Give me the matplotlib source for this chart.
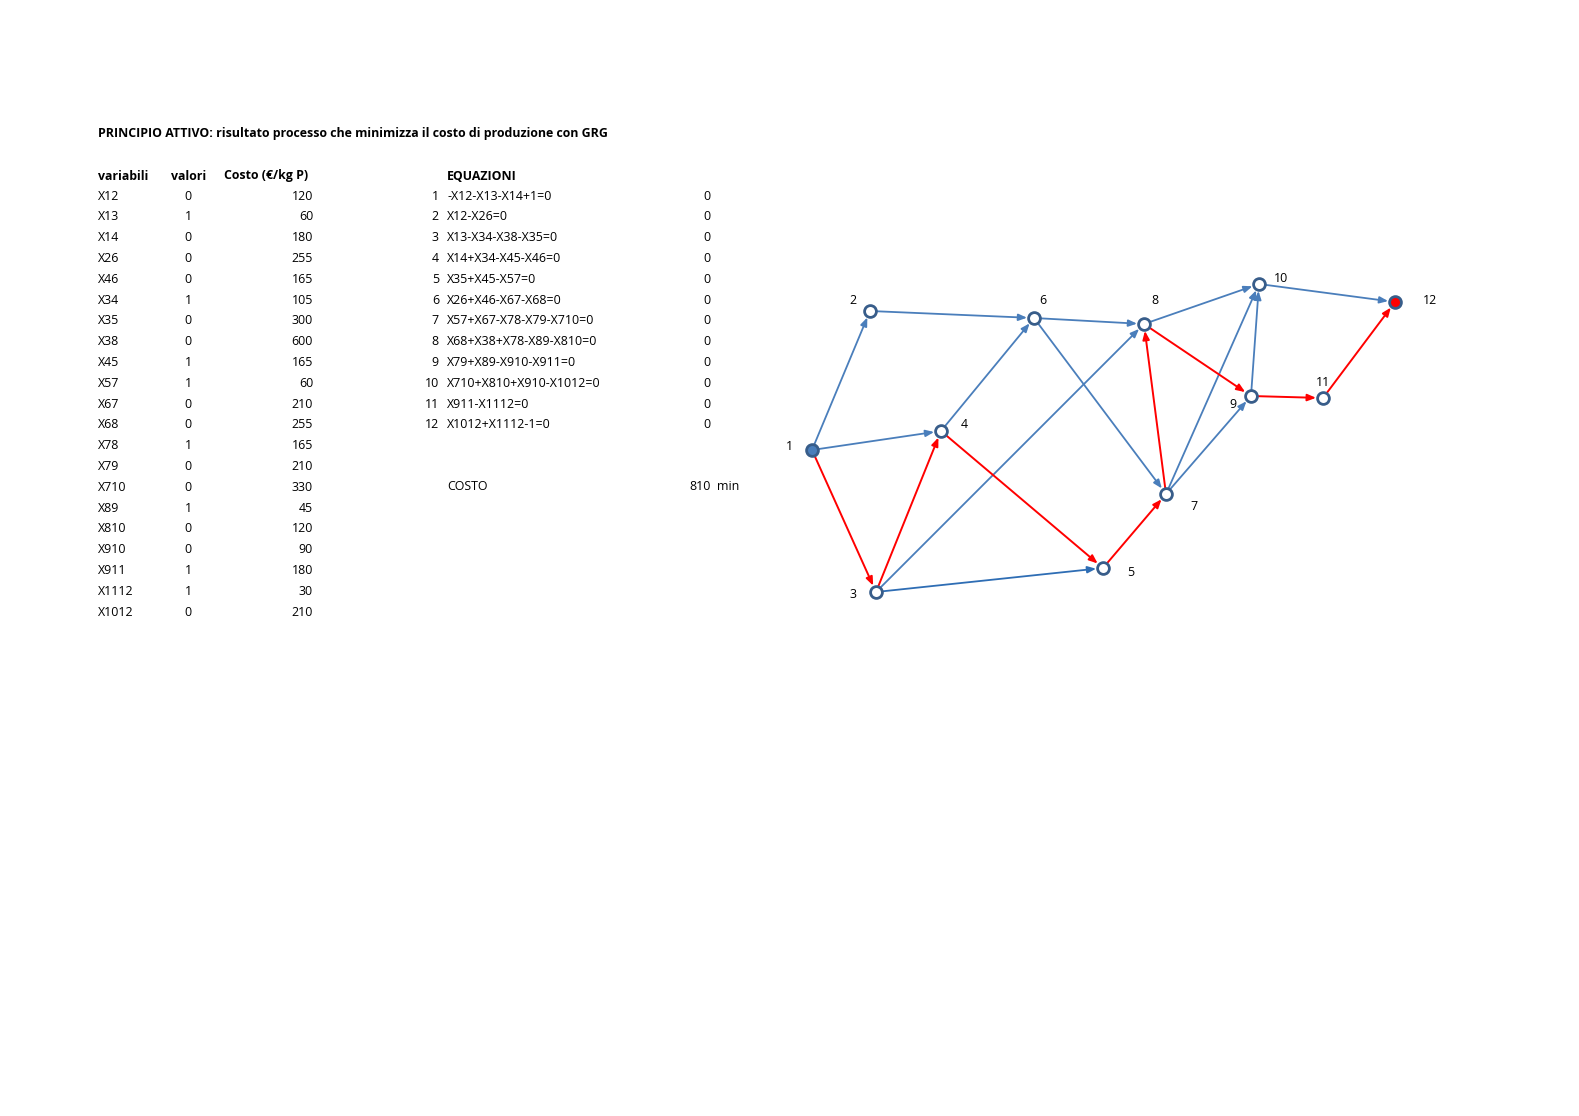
import matplotlib
matplotlib.use("Agg")
import matplotlib.pyplot as plt

variabili = ["X12","X13","X14","X26","X46","X34","X35","X38","X45","X57","X67","X68","X78","X79","X710","X89","X810","X910","X911","X1112","X1012"]
valori = [0,1,0,0,0,1,0,0,1,1,0,0,1,0,0,1,0,0,1,1,0]
costo = [120,60,180,255,165,105,300,600,165,60,210,255,165,210,330,45,120,90,180,30,210]
equazioni = ["-X12-X13-X14+1=0","X12-X26=0","X13-X34-X38-X35=0","X14+X34-X45-X46=0",
             "X35+X45-X57=0","X26+X46-X67-X68=0","X57+X67-X78-X79-X710=0",
             "X68+X38+X78-X89-X810=0","X79+X89-X910-X911=0","X710+X810+X910-X1012=0",
             "X911-X1112=0","X1012+X1112-1=0"]
eq_vals = [0]*12
costo_tot = 810

nodes = {1:(812,450),2:(870,311),3:(876,592),4:(941,431),5:(1103,568),6:(1034,318),
         7:(1166,494),8:(1144,324),9:(1251,396),10:(1259,284),11:(1323,398),12:(1395,302)}
label_pos = {1:(786,446),2:(849,300),3:(849,595),4:(961,425),5:(1127,573),6:(1039,300),
             7:(1190,507),8:(1151,300),9:(1229,404),10:(1274,279),11:(1316,383),12:(1423,300)}
blue_edges = [(1,2),(1,4),(2,6),(4,6),(3,8),(3,5),(6,8),(6,7),(7,9),(7,10),(9,10),(8,10),(10,12)]
red_edges = [(1,3),(3,4),(4,5),(5,7),(7,8),(8,9),(9,11),(11,12)]

fig = plt.figure(figsize=(15.79,11.16), dpi=100)
ax = fig.add_axes([0,0,1,1])
ax.set_xlim(0,1579); ax.set_ylim(1116,0); ax.axis("off")
F = dict(family=["Open Sans","DejaVu Sans"], fontsize=8.9, va="center")

ax.text(98,133,"PRINCIPIO ATTIVO: risultato processo che minimizza il costo di produzione con GRG", fontweight="bold", **F)
ax.text(98,176,"variabili", fontweight="bold", **F)
ax.text(171,176,"valori", fontweight="bold", **F)
ax.text(224,176,"Costo (€/kg P)", fontweight="bold", **F)
y0, dy = 196, 20.8
for i,(v,val,c) in enumerate(zip(variabili,valori,costo)):
    y = y0+i*dy
    ax.text(98,y,v,**F)
    ax.text(188,y,str(val),ha="center",**F)
    ax.text(313,y,str(c),ha="right",**F)
ax.text(447,176,"EQUAZIONI", fontweight="bold", **F)
for i,(e,ev) in enumerate(zip(equazioni,eq_vals)):
    y = y0+i*dy
    ax.text(439,y,str(i+1),ha="right",**F)
    ax.text(447,y,e,**F)
    ax.text(707,y,str(ev),ha="center",**F)
ax.text(447,487,"COSTO",**F)
ax.text(711,487,str(costo_tot),ha="right",**F)
ax.text(717,487,"min",**F)

def edge(a,b,col,lw):
    ax.annotate("", xy=nodes[b], xytext=nodes[a],
                arrowprops=dict(arrowstyle="-|>,head_length=0.5,head_width=0.2", color=col, lw=lw,
                                shrinkA=0, shrinkB=5))
for a,b in blue_edges:
    edge(a,b,"#4a7ebb" if (a,b)!=(3,5) else "#2e6db4",1.3)
for a,b in red_edges:
    edge(a,b,"#ff0000",1.4)
for n,(x,y) in nodes.items():
    fc = "white"
    if n==1: fc="#4a7ebb"
    if n==12: fc="#ff0000"
    ax.plot(x,y,"o",ms=8.5,mfc=fc,mec="#385d8a",mew=2,zorder=5)
    lx,ly = label_pos[n]
    ax.text(lx,ly,str(n),**F)
fig.savefig("out.png",dpi=100)
